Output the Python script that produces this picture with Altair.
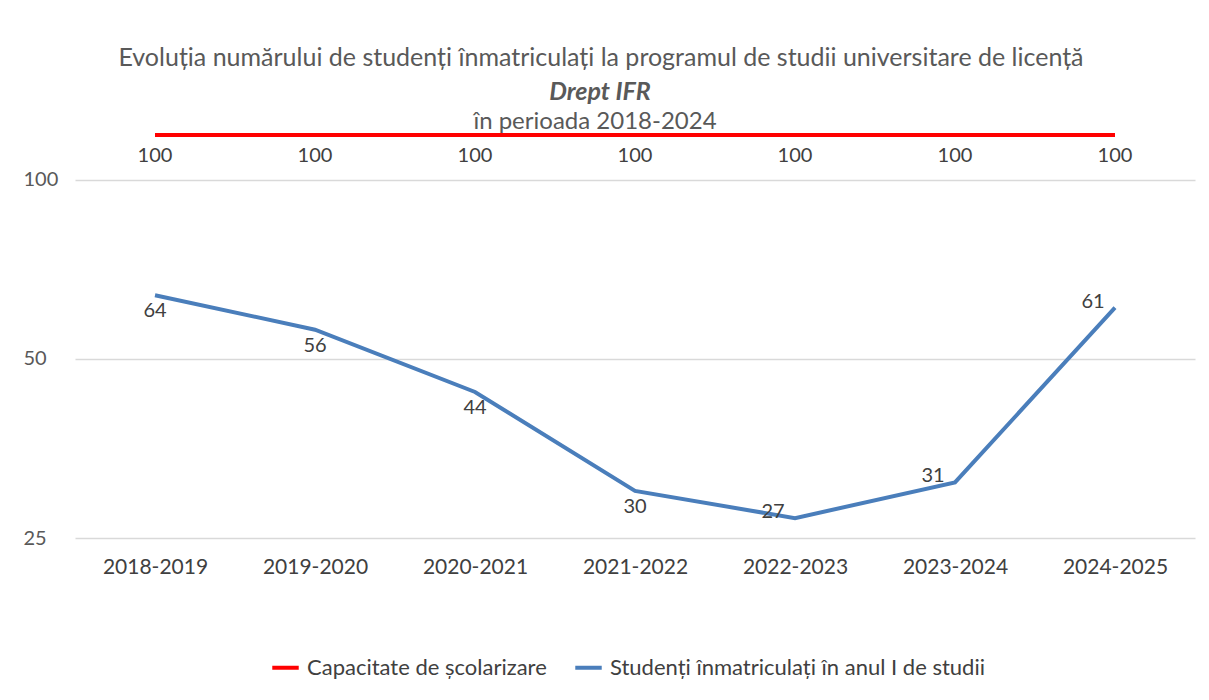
import altair as alt
import pandas as pd

ani = ["2018-2019", "2019-2020", "2020-2021", "2021-2022", "2022-2023", "2023-2024", "2024-2025"]
capacitate = [100, 100, 100, 100, 100, 100, 100]
inmatriculati = [64, 56, 44, 30, 27, 31, 61]
serie_cap = "Capacitate de școlarizare"
serie_stud = "Studenți înmatriculați în anul I de studii"
titlu = "Evoluția numărului de studenți înmatriculați la programul de studii universitare de licență"
subtitlu = "Drept IFR"
perioada = "în perioada 2018-2024"

df_cap = pd.DataFrame({"an": ani, "valoare": capacitate, "serie": serie_cap})
df_stud = pd.DataFrame({"an": ani, "valoare": inmatriculati, "serie": serie_stud})

FONT = "Lato"
GRAY = "#595959"
DARK = "#404040"

x_enc = alt.X("an:N", sort=ani, scale=alt.Scale(type="point", padding=0.5),
              axis=alt.Axis(title=None, labelAngle=0, labelFontSize=21, labelColor=DARK,
                            labelFont=FONT, ticks=False, domain=False, labelPadding=18))

color_scale = alt.Scale(domain=[serie_cap, serie_stud], range=["#FF0000", "#4A7EBB"])

y_main = alt.Scale(type="log", base=2, domain=[25, 119], nice=False)

line_stud = alt.Chart(df_stud).mark_line(strokeWidth=4).encode(
    x=x_enc,
    y=alt.Y("valoare:Q", scale=y_main,
            axis=alt.Axis(title=None, values=[25, 50, 100], grid=True, gridColor="#d9d9d9",
                          gridWidth=1.5, domain=False, ticks=False, labelAlign="left",
                          labelPadding=52, labelFontSize=20, labelColor=GRAY, labelFont=FONT,
                          labelBaseline="middle")),
    color=alt.Color("serie:N", scale=color_scale,
                    legend=alt.Legend(title=None, orient="none", legendX=195, legendY=517,
                                      direction="horizontal", symbolType="stroke",
                                      symbolStrokeWidth=4, symbolSize=700, labelFontSize=22,
                                      labelColor=DARK, labelFont=FONT, columnPadding=20,
                                      labelOffset=6, labelLimit=0)),
)

below_years = ani[:4]
left_years = ani[4:]

lbl_below = alt.Chart(df_stud).transform_filter(
    alt.FieldOneOfPredicate(field="an", oneOf=below_years)
).mark_text(dy=16, fontSize=20, color=DARK, font=FONT).encode(
    x=x_enc,
    y=alt.Y("valoare:Q", scale=y_main, axis=None),
    text="valoare:Q",
)
lbl_left = alt.Chart(df_stud).transform_filter(
    alt.FieldOneOfPredicate(field="an", oneOf=left_years)
).mark_text(dx=-22, dy=-6, fontSize=20, color=DARK, font=FONT).encode(
    x=x_enc,
    y=alt.Y("valoare:Q", scale=y_main, axis=None),
    text="valoare:Q",
)

y_cap = alt.Scale(type="linear", domain=[0, 100], nice=False)

line_cap = alt.Chart(df_cap).mark_line(strokeWidth=4).encode(
    x=x_enc,
    y=alt.Y("valoare:Q", scale=y_cap, axis=None),
    color=alt.Color("serie:N", scale=color_scale),
)
lbl_cap = alt.Chart(df_cap).mark_text(dy=21, fontSize=20, color=DARK, font=FONT).encode(
    x=x_enc,
    y=alt.Y("valoare:Q", scale=y_cap, axis=None),
    text="valoare:Q",
)

t2 = alt.Chart(pd.DataFrame({"t": [subtitlu]})).mark_text(
    fontSize=25, fontStyle="italic", fontWeight="bold", color=GRAY, font=FONT
).encode(x=alt.value(525), y=alt.value(-43), text="t:N")
t3 = alt.Chart(pd.DataFrame({"t": [perioada]})).mark_text(
    fontSize=24, color=GRAY, font=FONT
).encode(x=alt.value(520), y=alt.value(-13), text="t:N")

chart = alt.layer(line_stud, line_cap, lbl_below, lbl_left, lbl_cap, t2, t3).resolve_scale(
    y="independent"
).properties(
    width=1120, height=403,
    title=alt.Title(titlu, anchor="middle", fontSize=25, color=GRAY, font=FONT,
                    fontWeight="normal", offset=-3, dx=-34, baseline="middle"),
    autosize=alt.AutoSizeParams(type="none"),
    padding={"left": 67, "top": 127, "right": 6, "bottom": 150},
).configure_view(stroke=None)

chart.save("out.html", embed_options={"renderer": "svg", "actions": False})
